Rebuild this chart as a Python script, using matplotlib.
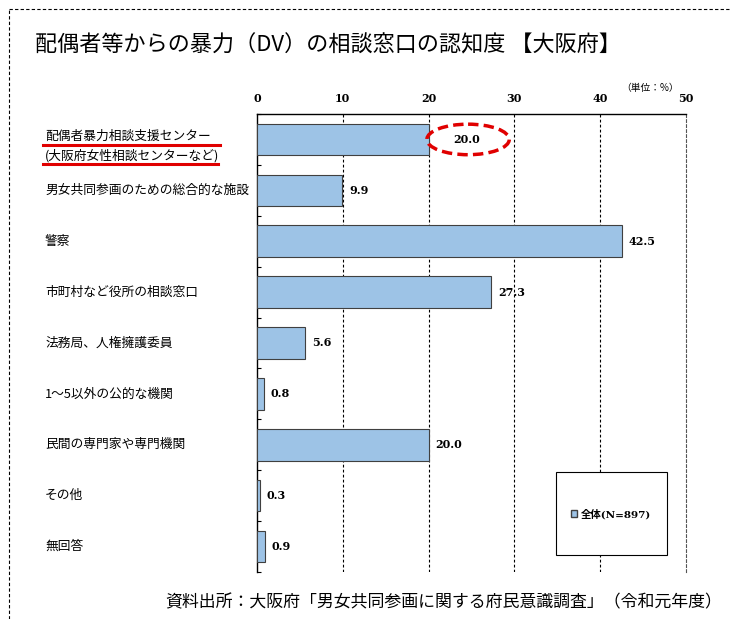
import matplotlib
matplotlib.use("Agg")
import matplotlib.pyplot as plt
from matplotlib.patches import Ellipse, Rectangle
from matplotlib.lines import Line2D
from matplotlib.patches import Patch
from matplotlib.transforms import blended_transform_factory

categories = [
    "配偶者暴力相談支援センター\n(大阪府女性相談センターなど)",
    "男女共同参画のための総合的な施設",
    "警察",
    "市町村など役所の相談窓口",
    "法務局、人権擁護委員",
    "1～5以外の公的な機関",
    "民間の専門家や専門機関",
    "その他",
    "無回答",
]
values = [20.0, 9.9, 42.5, 27.3, 5.6, 0.8, 20.0, 0.3, 0.9]
xticks = [0, 10, 20, 30, 40, 50]
series_label = "全体(N=897)"
title = "配偶者等からの暴力（DV）の相談窓口の認知度 【大阪府】"
source = "資料出所：大阪府「男女共同参画に関する府民意識調査」（令和元年度）"

JP = ["Noto Sans CJK JP", "DejaVu Sans"]
NUM = ["DejaVu Serif", "Noto Sans CJK JP"]

W, H = 731, 619
fig = plt.figure(figsize=(W / 100, H / 100), dpi=100)
ax = fig.add_axes([257 / W, 1 - 572 / H, (686 - 257) / W, (572 - 114) / H])

ypos = list(range(len(categories)))
bars = ax.barh(ypos, values, height=0.62, color="#9DC3E6", edgecolor="#404040",
               linewidth=0.8, label=series_label, zorder=3)
ax.set_ylim(len(categories) - 0.5, -0.5)
ax.set_xlim(0, 50)

# grid
for xv in xticks[1:-1]:
    ax.axvline(xv, color="black", lw=0.8, ls=(0, (2.5, 2)), zorder=1)
ax.spines["right"].set_linestyle((0, (2.5, 2)))
ax.spines["right"].set_color("#555555")
ax.spines["right"].set_linewidth(0.8)
ax.spines["bottom"].set_visible(False)
ax.spines["top"].set_linewidth(1.0)
ax.spines["left"].set_linewidth(1.0)

ax.xaxis.tick_top()
ax.set_xticks(xticks)
ax.set_xticklabels([str(t) for t in xticks], fontfamily="DejaVu Serif",
                   fontweight="bold", fontsize=8)
ax.tick_params(axis="x", length=0, pad=7)
ax.set_yticks([])
ax.set_yticks([i + 0.5 for i in range(-1, len(categories))], minor=True)
ax.tick_params(axis="y", which="minor", direction="in", length=3, width=0.8)
ax.tick_params(axis="y", which="major", length=0)

# value labels
for i, v in enumerate(values):
    off = 18 if i == 0 else 5
    ax.annotate(f"{v:.1f}", (v, i), xytext=(off, 0), textcoords="offset points",
                va="center", ha="left", fontfamily="DejaVu Serif",
                fontweight="bold", fontsize=8)

# category labels
tr = blended_transform_factory(fig.transFigure, ax.transData)
for i, c in enumerate(categories):
    ax.text(45 / W, i + (0.13 if "\n" in c else 0), c, transform=tr, ha="left",
            va="center", multialignment="left", fontfamily=JP, fontsize=9.2,
            linespacing=1.65)

# red underlines under first label
for (x0, x1, yy) in [(43, 220, 145), (43, 218, 164)]:
    fig.add_artist(Line2D([x0 / W, x1 / W], [1 - yy / H, 1 - yy / H],
                          color="#E00000", lw=2.2, transform=fig.transFigure))

# red dashed ellipse around first value
e = Ellipse((values[0] + 4.6, 0), width=9.6, height=0.6, fill=False,
            edgecolor="#E00000", lw=2.5, ls=(0, (3, 1.5)), zorder=5, clip_on=False)
ax.add_patch(e)

# unit
fig.text(650 / W, 1 - 88 / H, "（単位：%）", fontfamily=JP, fontsize=7,
         ha="center", va="center")

# legend box
fig.add_artist(Rectangle((556 / W, 1 - 555 / H), (667 - 556) / W, (555 - 472) / H,
                         transform=fig.transFigure, fill=True, facecolor="white",
                         edgecolor="black", lw=0.8, zorder=4))
leg = fig.legend(handles=[Patch(facecolor="#9DC3E6", edgecolor="#404040", label=series_label)],
                 loc="center", bbox_to_anchor=(611 / W, 1 - 514 / H), frameon=False,
                 handlelength=0.6, handleheight=0.6, handletextpad=0.3,
                 prop={"family": NUM, "weight": "bold", "size": 7.5})
leg.set_zorder(6)

# title and source
fig.text(35 / W, 1 - 45 / H, title, fontfamily=JP, fontsize=15.9, ha="left", va="center")
fig.text(165 / W, 1 - 602 / H, source, fontfamily=JP, fontsize=12.2, ha="left", va="center")

# dashed frame
fig.add_artist(Line2D([9 / W, 1], [1 - 9 / H, 1 - 9 / H], color="black", lw=0.8,
                      ls=(0, (3, 2)), transform=fig.transFigure))
fig.add_artist(Line2D([9 / W, 9 / W], [0, 1 - 9 / H], color="black", lw=0.8,
                      ls=(0, (3, 2)), transform=fig.transFigure))

fig.savefig("out.png", dpi=100)
